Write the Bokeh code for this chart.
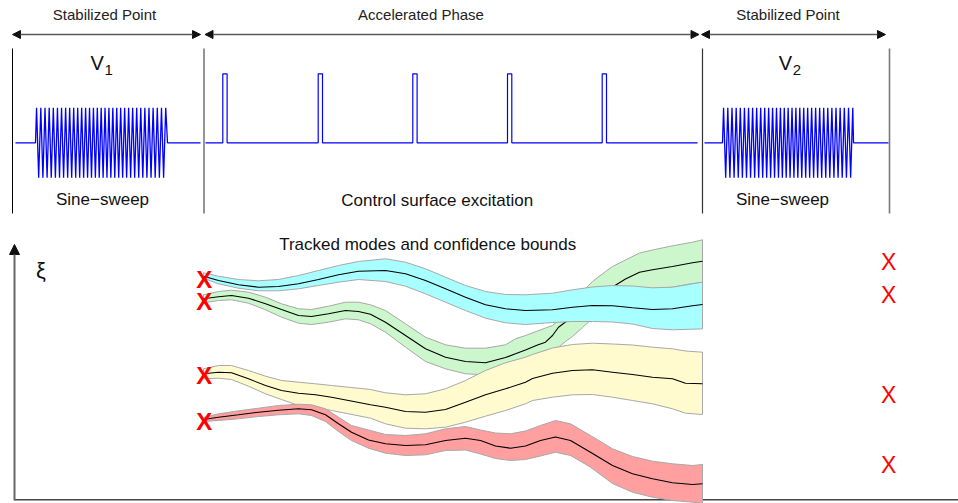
import numpy as np
from bokeh.plotting import figure
from bokeh.models import Range1d, Arrow, NormalHead
from bokeh.embed import file_html
from bokeh.resources import INLINE
from bokeh.core.properties import value

FONT = "Liberation Sans"

# ---------------- top panel: test phases ----------------
phase_edges = [12, 203.5, 702, 889]
phase_labels = ["Stabilized Point", "Accelerated Phase", "Stabilized Point"]
signal_labels = ["Sine\u2212sweep", "Control surface excitation", "Sine\u2212sweep"]
speed_names = ["V", "V"]
speed_subs = ["1", "2"]

# sine sweeps: (rest start, sweep start, sweep end, rest end)
sweep_spans = [(15, 35, 167, 200), (704, 722, 853, 888)]
sweep_level = 142.3
sweep_amp = 35.0
sweep_f_edge = 0.235  # apparent cycles per unit at sweep ends
sweep_f_mid = 0.26    # apparent cycles per unit mid sweep

# control surface pulses
pulse_start = [222.3, 317.7, 412.3, 507.0, 601.7]
pulse_width = 4.3
pulse_top = 73.3
pulse_rest = (205, 697)

# ---------------- bottom panel: tracked modes ----------------
cyan_t = [203, 218, 238, 258, 278, 298, 318, 338, 358, 385, 405, 425, 445, 465, 485, 505, 525, 552, 572, 592, 612, 632, 652, 672, 692, 702]
cyan_mid = [275.7, 280, 284.3, 286.7, 286, 283.3, 279, 274.3, 270.7, 270, 273.3, 280, 288.3, 296.7, 304.3, 308.3, 310, 309.3, 306.7, 305, 305.3, 307.3, 309, 308.3, 305.3, 304]
cyan_hi = [272.3, 275.7, 279, 280.3, 279, 275, 270, 265, 261, 258.3, 261.7, 268.3, 276.7, 285, 291, 294, 294.3, 292.7, 289.3, 286.5, 285, 285.5, 287.3, 286.7, 283.3, 281.7]
cyan_lo = [277.7, 283.3, 287.7, 290.3, 290.3, 288.3, 285, 281.7, 279, 281, 285.7, 293.3, 301.7, 310, 317.7, 322.3, 324, 322, 321, 321, 321.5, 323.5, 328, 329.3, 328.7, 328.3]

green_t = [203, 218, 231, 248, 265, 281, 298, 311, 328, 345, 358, 370, 385, 405, 425, 445, 465, 485, 505, 515, 525, 537, 545, 552, 558, 565, 572, 582, 592, 605, 612, 625, 639, 652, 672, 692, 702]
green_mid = [298.3, 296.3, 295, 297.7, 303.3, 309, 315, 316, 313.3, 310, 311, 313.7, 321.7, 335, 348.3, 356.7, 361, 362.3, 357, 353.3, 349.5, 344.5, 341.7, 335, 326.7, 321.5, 316.3, 308.9, 301.4, 291.7, 286.5, 278.5, 271.7, 269.3, 266, 262.3, 260.7]
green_hi = [294.3, 291, 289.7, 291.7, 296.7, 303.3, 308.3, 309, 305.7, 301.7, 301.7, 304.3, 310, 323.3, 336.7, 344.3, 347.7, 347.7, 344.3, 338.3, 335, 330.5, 327.5, 325, 320, 312, 304, 291, 281, 271, 266, 259.5, 252.5, 249.5, 245.3, 241.7, 239.3]
green_lo = [302.3, 300, 299.3, 302.7, 309.3, 316.7, 322.7, 324, 321.7, 318.3, 319.3, 323.3, 331.7, 346.7, 361, 368.3, 373.3, 374.3, 366, 361, 357.5, 353, 350, 348.5, 346.7, 341, 336, 327, 318, 307, 301, 295, 290, 288, 286.7, 283, 282]

yellow_t = [203, 218, 231, 248, 265, 281, 298, 315, 331, 348, 370, 385, 405, 425, 445, 465, 485, 505, 525, 532, 552, 572, 592, 612, 632, 652, 672, 685, 702]
yellow_mid = [373.3, 371.7, 372.3, 378.3, 385, 390, 392.7, 394.3, 396.7, 400, 404.3, 406.7, 411, 411.7, 409, 401.7, 394.3, 388.3, 381.7, 378, 372.7, 370, 369.3, 371.7, 374, 376.7, 378.3, 382.7, 383.3]
yellow_hi = [368.3, 365, 365, 370, 375.7, 380, 381.7, 383.3, 385, 386.7, 389, 392.3, 394.3, 393.3, 388.3, 380, 370, 362.3, 356.7, 354, 347.5, 344, 342.7, 343.5, 344.5, 346.7, 348.3, 350.5, 351.7]
yellow_lo = [378.3, 377.7, 379, 385.7, 393.3, 399, 405, 406.7, 410, 413.3, 417.7, 423.3, 427.7, 428.3, 426.7, 421.7, 415.7, 410, 403.3, 400, 396.7, 394.3, 394, 396.7, 400, 403.3, 408.3, 412.7, 414]

red_t = [203, 218, 238, 258, 278, 298, 311, 325, 338, 351, 368, 385, 405, 425, 445, 465, 480, 495, 510, 525, 540, 555, 570, 590, 612, 632, 652, 672, 692, 702]
red_mid = [419, 416.7, 414.3, 411.7, 409.7, 408.3, 409.3, 414.3, 423.3, 431.7, 439.5, 443.3, 445, 444.3, 440, 437.7, 440, 445.5, 447.7, 445.5, 440, 436.5, 440, 451.7, 465, 473.3, 478.3, 482.3, 484, 483.3]
red_hi = [417, 413.3, 410.3, 407.7, 405, 403.7, 404.3, 408.3, 416.7, 425, 429.5, 434, 435, 433.3, 428.3, 426, 429.5, 432.5, 433.3, 430.5, 425, 420, 423.3, 435, 448.3, 456, 460.7, 463.3, 465, 464]
red_lo = [421, 420, 418.3, 416, 414.3, 413.3, 415, 421, 431, 440, 447.7, 452.7, 455, 454.3, 450, 449.5, 453.5, 458, 460, 459, 455.5, 451.7, 455, 466.7, 483, 491.7, 496.7, 500, 501.7, 502.7]

# modes identified at the stabilized points (marker levels)
modes_v1 = [278.7, 301.0, 375.0, 421.0]
modes_v2 = [261.7, 294.7, 394.3, 464.7]

# ---------------- figure ----------------
W, H = 958, 503
p = figure(width=W, height=H, x_range=Range1d(0, W), y_range=Range1d(H, 0),
           output_backend="svg", toolbar_location=None,
           x_axis_location=None, y_axis_location=None, min_border=0)
p.grid.visible = False
p.outline_line_color = None
p.background_fill_color = "white"
p.border_fill_color = "white"

def label(x, y, t, size, color="#111111", align="center", style="normal"):
    p.text([x], [y], text=[t], text_font=value(FONT), text_font_size=size,
           text_font_style=style, text_align=align, text_baseline="middle",
           text_color=color)

# phase arrows
head = dict(size=8, fill_color="#111111", line_color="#111111")
arrow_tips = [(phase_edges[0], phase_edges[1] - 3.5),
              (phase_edges[1] + 1, phase_edges[2] - 3.5),
              (phase_edges[2] - 1, phase_edges[3] - 4)]
for (a, b) in arrow_tips:
    p.add_layout(Arrow(start=NormalHead(**head), end=NormalHead(**head),
                       x_start=a, y_start=34, x_end=b, y_end=34,
                       line_color="#5a5a5a", line_width=1.5))

# dividers
div_colors = ["#000000", "#7a7a7a", "#333333", "#7a7a7a"]
div_widths = [1.0, 1.6, 1.2, 1.6]
for xv, c, w in zip(phase_edges, div_colors, div_widths):
    p.line([xv, xv], [48, 213], line_color=c, line_width=w)

# phase labels
for xv, t in zip([104, 420.5, 787.5], phase_labels):
    label(xv, 14, t, "15px", color="#222222")

for xv, yv, t in zip([102, 436.7, 782], [198.5, 200, 198.5], signal_labels):
    label(xv, yv, t, "17px")

# V1, V2
for vx, sx, name, sub in zip([90, 778.3], [104, 792.3], speed_names, speed_subs):
    label(vx, 62, name, "20px", align="left")
    label(sx, 69, sub, "15px", align="left")

# sine sweeps (drawn through their alternating extremes)
def sweep_line(r0, a, b, r1):
    xs = np.linspace(a, b, 20001)
    u = (xs - a) / (b - a)
    f = sweep_f_edge + (sweep_f_mid - sweep_f_edge) * (1 - np.abs(2 * u - 1))
    cyc = np.concatenate([[0.0], np.cumsum((f[1:] + f[:-1]) / 2 * np.diff(xs))])
    n = int(np.floor((cyc[-1] - 0.25) / 0.5)) + 1
    targets = 0.25 + 0.5 * np.arange(n)
    ex = np.interp(targets, cyc, xs)
    ey = sweep_level - sweep_amp * np.where(np.arange(n) % 2 == 0, 1, -1)
    X = np.concatenate([[r0, a], ex, [b, r1]])
    Y = np.concatenate([[sweep_level, sweep_level], ey, [sweep_level, sweep_level]])
    return X, Y

for span in sweep_spans:
    X, Y = sweep_line(*span)
    p.line(X, Y, line_color="#0000ff", line_width=1.3)

# pulses
px = [pulse_rest[0]]
py = [sweep_level]
for s in pulse_start:
    px += [s, s, s + pulse_width, s + pulse_width]
    py += [sweep_level, pulse_top, pulse_top, sweep_level]
px.append(pulse_rest[1])
py.append(sweep_level)
p.line(px, py, line_color="#0000ff", line_width=1.2)

# ---------------- bottom panel ----------------
p.add_layout(Arrow(end=NormalHead(size=10, fill_color="#111111", line_color="#111111"),
                   x_start=14, y_start=500, x_end=14, y_end=244,
                   line_color="#666666", line_width=2))
p.line([14, 958], [499.3, 499.3], line_color="#444444", line_width=1.5)

label(40.5, 270, "\u03be", "22px")
label(427.2, 244, "Tracked modes and confidence bounds", "17px")

bands = [
    (green_t, green_hi, green_lo, green_mid, "#ccf7cc"),
    (cyan_t, cyan_hi, cyan_lo, cyan_mid, "#a8ffff"),
    (yellow_t, yellow_hi, yellow_lo, yellow_mid, "#fffbcf"),
    (red_t, red_hi, red_lo, red_mid, "#ff9f9f"),
]
for t, hi, lo, mid, col in bands:
    xs = list(t) + list(t)[::-1]
    ys = list(hi) + list(lo)[::-1]
    p.patch(xs, ys, fill_color=col, line_color="#a8a8a8", line_width=1)
    p.line(t, mid, line_color="#000000", line_width=1.1)

# mode markers
p.text([203.7] * 4, modes_v1, text=["X"] * 4, text_font=value(FONT), text_font_size="24px",
       text_font_style="bold", text_align="center", text_baseline="middle", text_color="#ff0000")
p.text([888.2] * 4, modes_v2, text=["X"] * 4, text_font=value(FONT), text_font_size="23px",
       text_align="center", text_baseline="middle", text_color="#ff0000")

open("out.html", "w").write(file_html(p, INLINE))
